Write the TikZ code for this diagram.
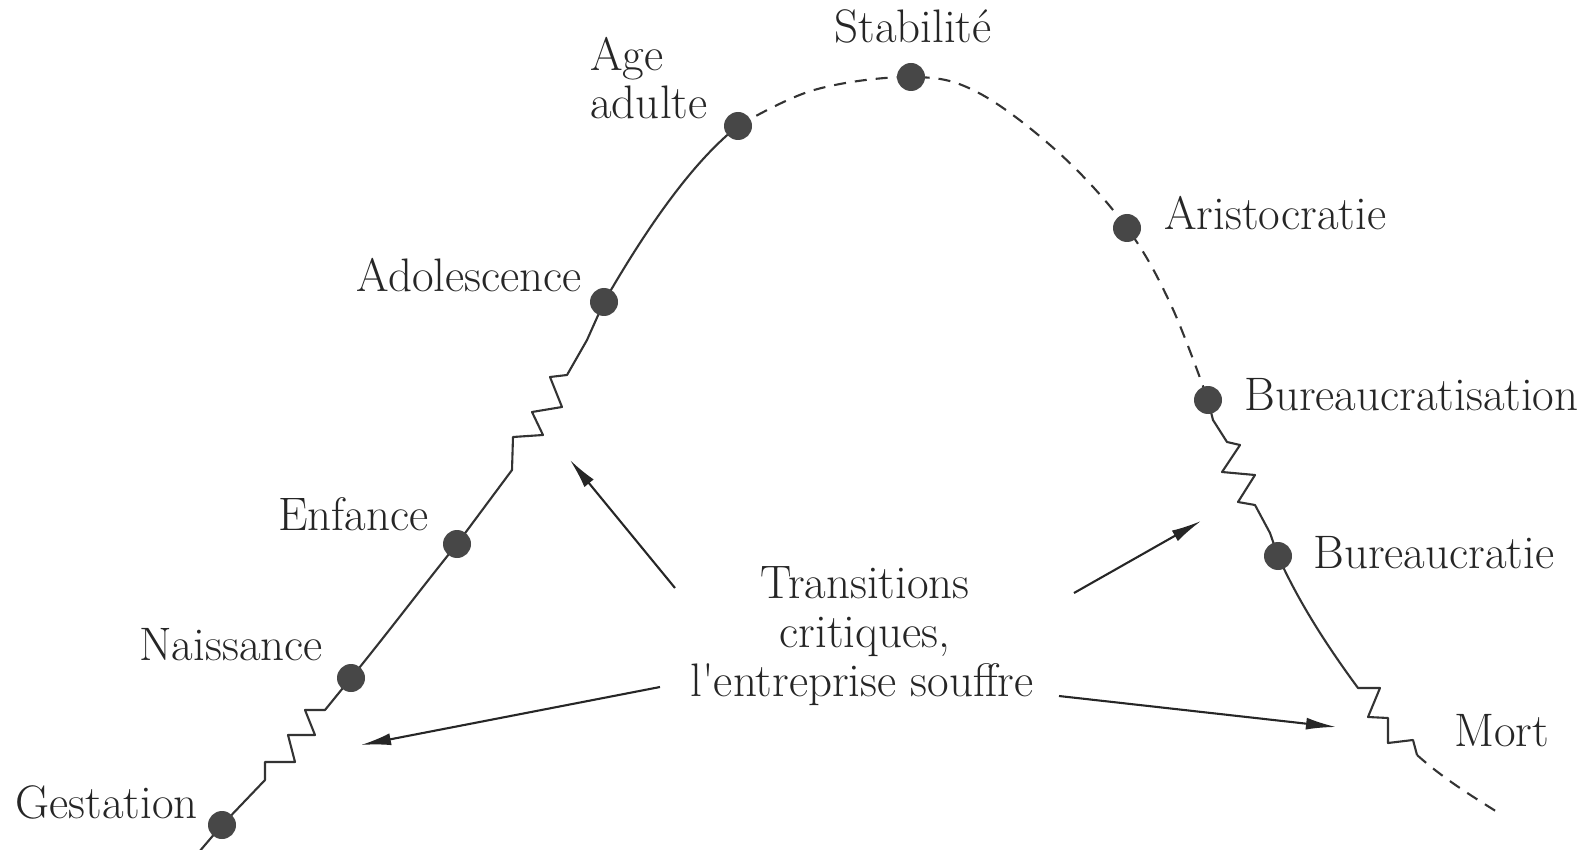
\documentclass[tikz,border=0pt]{standalone}
\usetikzlibrary{arrows.meta}
\begin{document}
\begin{tikzpicture}[x=0.5pt,y=-0.5pt,
  lbl/.style={font=\fontsize{23.5}{28}\selectfont, inner sep=0pt, text=black!85},
  dot/.style={circle, fill=black!72, minimum size=14pt, inner sep=0pt},
  crv/.style={line width=1.05pt, draw=black!80, line join=round},
  dsh/.style={crv, dash pattern=on 6pt off 4.5pt},
  arr/.style={line width=1.05pt, draw=black!85, -{Latex[length=15pt,width=6pt]}}]
\useasboundingbox (0,0) rectangle (1596,850);
% key points
\coordinate (st) at (199,852);
\coordinate (pG) at (222,825);
\coordinate (pN) at (351,678);
\coordinate (pE) at (457,544);
\coordinate (pAd) at (604,302);
\coordinate (pAA) at (738,126);
\coordinate (pS) at (911,77);
\coordinate (pAr) at (1127,228);
\coordinate (pBs) at (1208,400);
\coordinate (pBc) at (1278,556);
\coordinate (mz) at (1417,755);
\coordinate (en) at (1502,815);
% curve
\draw[crv] (st) -- (pG) -- (265,780) -- (265,762) -- (295,762) -- (288,735) -- (315,735) -- (305,710) -- (325,710) -- (pN);
\draw[crv] (pN) .. controls (390,630) and (420,590) .. (pE) -- (512,470) -- (513,437) -- (543,435) -- (532,412) -- (562,407) -- (550,377) -- (567,375) -- (587,340) -- (pAd) .. controls (650,222) and (695,160) .. (pAA);
\draw[dsh] plot[smooth, tension=0.6] coordinates {(pAA) (814,90) (pS) (977,92) (1059,153) (pAr) (1171,305) (pBs)};
\draw[crv] (pBs) -- (1213,420) -- (1227,442) -- (1240,445) -- (1222,472) -- (1255,475) -- (1238,502) -- (1255,505) -- (1270,533) -- (pBc) .. controls (1300,605) and (1330,650) .. (1358,688) -- (1380,688) -- (1368,717) -- (1388,718) -- (1388,743) -- (1413,740) -- (mz);
\draw[dsh] (mz) .. controls (1445,780) and (1475,798) .. (en);
% dots
\foreach \p in {pG,pN,pE,pAd,pAA,pS,pAr,pBs,pBc} \node[dot] (d\p) at (\p) {};
% labels
\node[lbl, anchor=base] (lS) at (913,43) {Stabilit\'e};
\node[lbl, anchor=base west] (lA1) at (590,71) {Age};
\node[lbl, anchor=base west] (lA2) at (590,119) {adulte};
\node[lbl, anchor=base west] (lAr) at (1164,230) {Aristocratie};
\node[lbl, anchor=base east] (lAd) at (582,292) {Adolescence};
\node[lbl, anchor=base west] (lBs) at (1244,410) {Bureaucratisation};
\node[lbl, anchor=base west] (lE) at (278,530) {Enfance};
\node[lbl, anchor=base west] (lBc) at (1313,568) {Bureaucratie};
\node[lbl, anchor=base] (t1) at (865,598) {Transitions};
\node[lbl, anchor=base] (t2) at (865,647) {critiques,};
\node[lbl, anchor=base] (t3) at (862,696) {l\textquotesingle entreprise souffre};
\node[lbl, anchor=base west] (lN) at (139,660) {Naissance};
\node[lbl, anchor=base west] (lM) at (1454,746) {Mort};
\node[lbl, anchor=base west] (lG) at (15,818) {Gestation};
% arrows
\coordinate (a1s) at (675,588); \coordinate (a1e) at (570,460);
\coordinate (a2s) at (1074,593); \coordinate (a2e) at (1201,521);
\coordinate (a3s) at (660,687); \coordinate (a3e) at (361,745);
\coordinate (a4s) at (1059,696); \coordinate (a4e) at (1336,727);
\draw[arr] (a1s) -- (a1e);
\draw[arr] (a2s) -- (a2e);
\draw[arr] (a3s) -- (a3e);
\draw[arr] (a4s) -- (a4e);
\end{tikzpicture}
\end{document}
